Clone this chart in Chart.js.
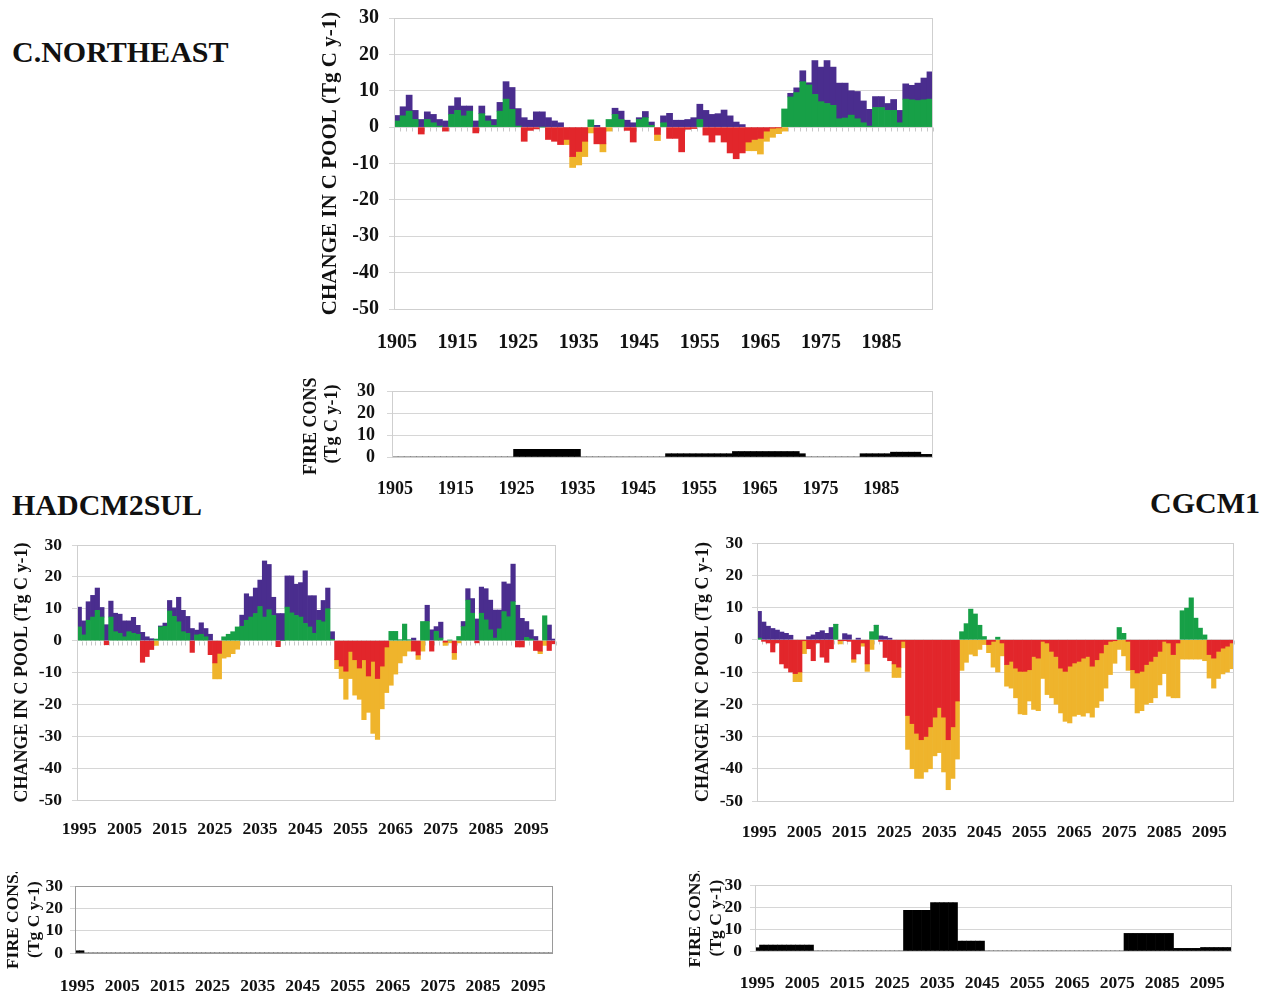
<!DOCTYPE html>
<html>
<head>
<meta charset="utf-8">
<script src="https://cdn.jsdelivr.net/npm/chart.js@4.4.1/dist/chart.umd.min.js"></script>
<style>
  html, body { margin: 0; padding: 0; background: #ffffff; }
  body { width: 1270px; height: 995px; position: relative; overflow: hidden;
         font-family: "Liberation Serif", "Times New Roman", serif; }
  .panel-title { position: absolute; font-weight: bold; font-size: 30px; line-height: 30px; color: #111; white-space: nowrap; }
  canvas { position: absolute; }
</style>
</head>
<body>
<div class="panel-title" style="left:12px; top:37px;">C.NORTHEAST</div>
<div class="panel-title" style="left:12px; top:490px;">HADCM2SUL</div>
<div class="panel-title" style="right:10px; top:488px;">CGCM1</div>

<canvas id="histMain"></canvas>
<canvas id="histFireChart"></canvas>
<canvas id="hadMain"></canvas>
<canvas id="hadFireChart"></canvas>
<canvas id="cgMain"></canvas>
<canvas id="cgFireChart"></canvas>

<script>
// ---- categories ----
const histYears = [1905,1906,1907,1908,1909,1910,1911,1912,1913,1914,
  1915,1916,1917,1918,1919,1920,1921,1922,1923,1924,
  1925,1926,1927,1928,1929,1930,1931,1932,1933,1934,
  1935,1936,1937,1938,1939,1940,1941,1942,1943,1944,
  1945,1946,1947,1948,1949,1950,1951,1952,1953,1954,
  1955,1956,1957,1958,1959,1960,1961,1962,1963,1964,
  1965,1966,1967,1968,1969,1970,1971,1972,1973,1974,
  1975,1976,1977,1978,1979,1980,1981,1982,1983,1984,
  1985,1986,1987,1988,1989,1990,1991,1992,1993];

const futureYears = [1995,1996,1997,1998,1999,2000,2001,2002,2003,2004,
  2005,2006,2007,2008,2009,2010,2011,2012,2013,2014,
  2015,2016,2017,2018,2019,2020,2021,2022,2023,2024,
  2025,2026,2027,2028,2029,2030,2031,2032,2033,2034,
  2035,2036,2037,2038,2039,2040,2041,2042,2043,2044,
  2045,2046,2047,2048,2049,2050,2051,2052,2053,2054,
  2055,2056,2057,2058,2059,2060,2061,2062,2063,2064,
  2065,2066,2067,2068,2069,2070,2071,2072,2073,2074,
  2075,2076,2077,2078,2079,2080,2081,2082,2083,2084,
  2085,2086,2087,2088,2089,2090,2091,2092,2093,2094,
  2095,2096,2097,2098,2099,2100];

// ---- tick labels ----
const histTickYears = [1905,1915,1925,1935,1945,1955,1965,1975,1985];
const futureTickYears = [1995,2005,2015,2025,2035,2045,2055,2065,2075,2085,2095];
const poolTicks = [-50,-40,-30,-20,-10,0,10,20,30];
const fireTicks = [0,10,20,30];

// ---- C.NORTHEAST, annual change in carbon pools (Tg C / yr) ----
const histVeg = [1.7,3.1,4.4,2.1,-1.9,2.1,1.2,0.3,-1.1,3.5,
  4.6,3.1,4.4,-1.6,3.7,1.7,0.5,4.4,7.7,4.9,
  0.3,-3.9,-0.9,-0.5,0.0,-3.4,-3.9,-4.8,-3.4,-8.1,
  -6.7,-3.9,2.0,-4.6,-4.6,2.1,3.5,2.1,-0.9,-4.1,
  2.1,2.6,0.5,-2.0,1.2,-3.1,-3.1,-6.8,-0.6,-0.4,
  2.1,-2.2,-4.1,-2.2,-4.1,-7.1,-8.7,-7.1,-4.1,-3.4,
  -3.1,-1.1,-0.3,-0.2,5.0,8.3,9.5,12.5,11.6,9.0,
  7.0,6.5,6.0,2.3,2.5,3.3,2.3,1.2,0.3,5.4,
  5.4,4.6,4.6,1.2,7.7,7.5,7.3,7.5,7.7];
const histSoil = [1.5,2.5,4.4,2.5,2.1,2.1,2.3,1.8,1.7,2.3,
  3.5,2.7,1.4,1.7,2.1,1.4,1.6,2.4,4.8,6.0,
  4.8,2.6,1.9,4.2,4.2,2.6,1.7,1.2,-1.4,-3.0,
  -3.7,-4.2,-1.6,0.5,-2.2,-1.1,1.7,2.3,1.9,1.2,
  0.5,1.7,0.9,-1.7,1.9,3.8,1.9,1.9,2.1,2.6,
  4.2,4.6,3.5,3.7,4.7,3.1,1.4,0.7,-2.4,-3.1,
  -4.3,-2.8,-2.5,-1.6,-1.1,1.0,1.3,3.0,0.6,9.3,
  9.5,11.8,10.5,9.8,9.6,6.7,7.5,6.0,4.6,3.0,
  3.0,1.9,3.0,3.4,4.2,4.0,4.8,6.0,7.5];
const histFire = [0,0,0,0,0,0,0,0,0,0,
  0,0,0,0,0,0,0,0,0,0,
  3.5,3.5,3.5,3.5,3.5,3.5,3.5,3.5,3.5,3.5,
  3.5,0,0,0,0,0,0,0,0,0,
  0,0,0,0,0,1.5,1.5,1.5,1.5,1.5,
  1.5,1.5,1.5,1.5,1.5,1.5,2.5,2.5,2.5,2.5,
  2.5,2.5,2.5,2.5,2.5,2.5,2.5,1.5,0,0,
  0,0,0,0,0,0,0,1.5,1.5,1.5,
  1.5,1.5,2.2,2.2,2.2,2.2,2.2,1.2,1.2];

// ---- HADCM2SUL scenario ----
const hadVeg = [4.3,1.8,6.4,7.4,9.5,7.4,-1.3,7.4,2.8,2.3,
  1.2,2.8,2.3,2.0,-6.8,-5.0,-2.8,0.5,4.3,4.5,
  9.3,7.6,5.9,2.8,2.3,-3.7,1.8,2.0,1.2,-4.4,
  -7.0,-4.0,1.2,2.0,2.8,4.3,4.5,6.4,7.4,8.5,
  10.7,7.4,9.7,7.9,-1.9,0.0,10.5,8.7,7.9,7.4,
  5.4,4.3,2.3,6.4,5.9,10.0,0.4,-6.0,-8.0,-9.6,
  -3.4,-6.0,-8.6,-6.0,-11.1,-6.5,-11.9,-8.0,-2.0,2.9,
  2.9,0.3,5.2,0.3,-3.3,-4.5,6.0,6.0,-3.3,2.9,
  0.8,-0.5,0.2,-3.8,1.3,4.4,12.7,8.6,-0.7,8.6,
  6.5,3.4,0.8,3.7,9.1,7.5,12.2,-2.0,-2.0,1.0,
  0.5,-3.1,-3.3,7.8,-3.1,-1.0];
const hadSoil = [6.2,4.4,5.8,6.8,7.0,3.0,5.0,5.0,5.8,6.0,
  5.0,3.4,5.0,2.8,2.6,1.2,0.6,-1.5,0.3,1.0,
  3.3,2.7,7.7,6.7,5.3,3.8,1.5,3.6,2.6,2.0,
  -5.0,-8.0,-5.5,-5.1,-4.1,-2.7,3.5,8.3,6.4,8.0,
  8.3,17.6,14.2,5.7,8.5,8.5,9.8,11.6,9.8,10.8,
  16.5,9.8,11.8,3.1,6.7,6.5,2.4,-2.8,-3.9,-8.8,
  -8.5,-11.1,-9.8,-18.8,-11.4,-22.6,-19.1,-13.4,-14.3,-14.0,
  -10.5,-7.0,-4.8,-3.3,0.8,-1.4,-3.3,5.1,3.4,1.5,
  5.0,-1.0,-0.7,-2.1,-0.7,1.6,3.6,4.6,6.8,8.2,
  9.8,9.3,8.8,5.9,9.3,10.3,11.8,11.1,7.0,5.0,
  2.9,1.3,-0.8,-1.5,4.9,0.5];
const hadFire = [1.0,1.0,0,0,0,0,0,0,0,0,
  0,0,0,0,0,0,0,0,0,0,
  0,0,0,0,0,0,0,0,0,0,
  0,0,0,0,0,0,0,0,0,0,
  0,0,0,0,0,0,0,0,0,0,
  0,0,0,0,0,0,0,0,0,0,
  0,0,0,0,0,0,0,0,0,0,
  0,0,0,0,0,0,0,0,0,0,
  0,0,0,0,0,0,0,0,0,0,
  0,0,0,0,0,0,0,0,0,0,
  0,0,0,0,0,0];

// ---- CGCM1 scenario ----
const cgVeg = [0.5,-0.5,-1.0,-3.8,-1.0,-7.5,-8.8,-10.0,-10.5,-10.0,
  -0.3,-2.8,-6.5,-1.0,-5.4,-7.0,-2.8,4.8,-0.3,-0.3,
  -0.5,-6.0,-4.4,-1.0,-7.5,2.5,4.5,-0.5,-5.5,-6.5,
  -7.5,-8.5,-0.5,-23.5,-26.0,-29.0,-31.0,-30.0,-27.0,-24.0,
  -21.0,-24.0,-31.0,-27.0,-19.0,2.5,5.0,9.5,8.0,4.5,
  1.0,-1.5,-0.5,0.8,-1.0,-7.7,-6.7,-8.8,-9.8,-9.8,
  -9.3,-5.2,-5.7,-0.5,-1.0,-3.6,-5.2,-8.8,-9.8,-8.2,
  -7.2,-6.7,-5.7,-5.2,-8.2,-6.2,-4.1,-1.5,-0.5,-0.3,
  3.8,2.0,-0.5,-9.3,-10.3,-9.8,-7.7,-6.7,-5.2,-3.6,
  -0.5,-1.0,-4.6,-1.0,9.0,9.8,13.0,6.7,3.6,1.5,
  -4.6,-5.7,-3.6,-2.6,-2.0,-1.0];
const cgSoil = [8.3,5.5,4.2,3.5,3.0,2.4,2.0,1.4,-2.5,-3.0,
  -4.0,1.0,1.5,2.3,2.8,2.0,3.8,0.0,-1.0,1.9,
  1.5,-1.0,0.5,-1.0,-2.3,-3.0,0.0,1.2,1.0,0.5,
  -4.2,-3.2,-2.0,-10.5,-14.0,-14.0,-12.0,-11.0,-13.0,-12.0,
  -14.0,-17.0,-15.5,-16.0,-18.0,-9.5,-7.0,-4.5,-5.0,-3.0,
  -1.5,-2.5,-8.0,-10.0,-4.0,-6.7,-8.3,-9.2,-13.2,-13.4,
  -9.7,-16.4,-16.3,-11.5,-16.0,-14.4,-14.8,-13.9,-15.5,-17.6,
  -16.5,-16.5,-18.0,-17.5,-15.8,-14.8,-14.9,-13.5,-10.3,-7.0,
  -3.0,-5.0,-9.0,-5.7,-12.4,-12.2,-12.3,-12.8,-12.8,-10.4,
  -10.0,-16.5,-13.4,-17.0,-6.0,-6.0,-6.0,-6.0,-6.0,-6.5,
  -7.3,-9.3,-8.4,-8.0,-8.0,-8.0];
const cgFire = [1.5,2.7,2.7,2.7,2.7,2.7,2.7,2.7,2.7,2.7,
  2.7,2.7,2.7,0,0,0,0,0,0,0,
  0,0,0,0,0,0,0,0,0,0,
  0,0,0,18.5,18.5,18.5,18.5,18.5,18.5,22,
  22,22,22,22,22,4.5,4.5,4.5,4.5,4.5,
  4.5,0,0,0,0,0,0,0,0,0,
  0,0,0,0,0,0,0,0,0,0,
  0,0,0,0,0,0,0,0,0,0,
  0,0,8,8,8,8,8,8,8,8,
  8,8,8,1.2,1.2,1.2,1.2,1.2,1.2,1.6,
  1.6,1.6,1.6,1.6,1.6,1.6];

// ---- styling ----
const GREEN = '#17a047';
const RED = '#e2262b';
const PURPLE = '#4a2d8e';
const YELLOW = '#efb42c';
const GRID = '#d6d6d6';
const TEXT = '#111111';
const SERIF = "'Liberation Serif', 'Times New Roman', serif";

Chart.defaults.font.family = SERIF;
Chart.defaults.font.weight = 'bold';
Chart.defaults.color = TEXT;

// frame around the plotting area and small category marks on the zero line
const framePlugin = {
  id: 'frame',
  beforeDatasetsDraw(chart, args, opts) {
    if (!opts.zeroMarks) return;
    const ctx = chart.ctx, xs = chart.scales.x, ys = chart.scales.y;
    const y0 = Math.round(ys.getPixelForValue(0)) + 0.5;
    const step = xs.getPixelForValue(1) - xs.getPixelForValue(0);
    const start = xs.getPixelForValue(0) - step / 2;
    ctx.save();
    ctx.strokeStyle = '#c8c8c8';
    ctx.lineWidth = 1;
    ctx.beginPath();
    for (let i = 0; i <= chart.data.labels.length; i++) {
      const px = Math.round(start + i * step) + 0.5;
      ctx.moveTo(px, y0);
      ctx.lineTo(px, y0 + 4);
    }
    ctx.stroke();
    ctx.restore();
  },
  afterDatasetsDraw(chart, args, opts) {
    const ctx = chart.ctx, a = chart.chartArea;
    ctx.save();
    ctx.strokeStyle = opts.color || '#c4c4c4';
    ctx.lineWidth = 1;
    ctx.strokeRect(Math.round(a.left) + 0.5, Math.round(a.top) + 0.5,
                   Math.round(a.right - a.left) - 1, Math.round(a.bottom - a.top));
    ctx.restore();
  }
};

// builds one panel; g holds the plotting-area box on the page and font sizes
function buildPanel(id, g, labels, tickYears, datasets, yTicks, stacked, frameOpts) {
  const canvas = document.getElementById(id);
  const titleSize = g.titleFont || g.font;
  const lh = titleSize * 1.2;
  const tickLh = g.font * 1.2;
  const canvasLeft = Math.max(0, g.titleX - 20);
  const titlePad = g.titleX - canvasLeft - lh / 2;
  const padTop = 14, padRight = 8;
  const yw = g.l - canvasLeft;
  const xh = g.xOff + 22;
  const width = (g.r - canvasLeft) + padRight;
  const height = padTop + (g.b - g.t) + xh;
  canvas.width = width;
  canvas.height = height;
  canvas.style.left = canvasLeft + 'px';
  canvas.style.top = (g.t - padTop) + 'px';
  canvas.style.width = width + 'px';
  canvas.style.height = height + 'px';

  return new Chart(canvas, {
    type: 'bar',
    data: { labels, datasets },
    plugins: [framePlugin],
    options: {
      responsive: false,
      maintainAspectRatio: false,
      devicePixelRatio: 1,
      animation: false,
      layout: { padding: { left: 0, top: padTop, right: padRight, bottom: 0 } },
      plugins: {
        legend: { display: false },
        tooltip: { enabled: false },
        frame: frameOpts
      },
      scales: {
        x: {
          stacked,
          offset: true,
          grid: { display: false, drawTicks: false },
          border: { display: false },
          ticks: {
            autoSkip: false, maxRotation: 0, minRotation: 0,
            padding: g.xOff - tickLh / 2,
            font: { size: g.font, weight: 'bold' },
            color: TEXT,
            callback(value) {
              const yr = this.getLabelForValue(value);
              return tickYears.includes(yr) ? String(yr) : '';
            }
          },
          afterFit(scale) {
            scale.height = xh;
            scale.paddingLeft = 0;
            scale.paddingRight = 0;
          }
        },
        y: {
          stacked,
          min: yTicks[0],
          max: yTicks[yTicks.length - 1],
          grid: { color: GRID, lineWidth: 1, drawTicks: true, tickLength: 5, tickColor: GRID },
          border: { display: true, color: '#c4c4c4' },
          afterBuildTicks(scale) { scale.ticks = yTicks.map(v => ({ value: v })); },
          ticks: {
            autoSkip: false,
            padding: g.yGap - 5,
            font: { size: g.font, weight: 'bold' },
            color: TEXT
          },
          title: {
            display: true,
            text: g.title,
            font: { size: titleSize, weight: 'bold', lineHeight: 1.2 },
            color: TEXT,
            padding: { top: titlePad, bottom: 0 }
          },
          afterFit(scale) {
            scale.width = yw;
            scale.paddingTop = 0;
            scale.paddingBottom = 0;
          }
        }
      }
    }
  });
}

function poolDatasets(veg, soil) {
  return [
    { label: 'vegetation', data: veg, borderWidth: 0, barPercentage: 1, categoryPercentage: 1,
      backgroundColor: c => (c.raw >= 0 ? GREEN : RED) },
    { label: 'soil', data: soil, borderWidth: 0, barPercentage: 1, categoryPercentage: 1,
      backgroundColor: c => (c.raw >= 0 ? PURPLE : YELLOW) }
  ];
}
function fireDatasets(fire) {
  return [{ label: 'fire', data: fire, borderWidth: 0, barPercentage: 1, categoryPercentage: 1,
            backgroundColor: '#000000' }];
}

const poolTitle = 'CHANGE IN C POOL (Tg C y-1)';
const fireTitle = ['FIRE CONS.', '(Tg C y-1)'];

buildPanel('histMain',
  { l: 394, t: 18, r: 933, b: 309, font: 20, titleFont: 21, titleX: 331, xOff: 34, yGap: 15, title: poolTitle },
  histYears, histTickYears, poolDatasets(histVeg, histSoil), poolTicks, true,
  { zeroMarks: true, color: '#cfcfcf' });

buildPanel('histFireChart',
  { l: 392, t: 391, r: 933, b: 457, font: 18, titleX: 311, xOff: 32, yGap: 17, title: fireTitle },
  histYears, histTickYears, fireDatasets(histFire), fireTicks, false,
  { zeroMarks: false, color: '#cfcfcf' });

buildPanel('hadMain',
  { l: 77, t: 545, r: 556, b: 800, font: 17.5, titleFont: 18, titleX: 22, xOff: 29, yGap: 15, title: poolTitle },
  futureYears, futureTickYears, poolDatasets(hadVeg, hadSoil), poolTicks, true,
  { zeroMarks: true, color: '#cfcfcf' });

buildPanel('hadFireChart',
  { l: 75, t: 886, r: 553, b: 953, font: 17.5, titleX: 13, xOff: 33, yGap: 12, title: fireTitle },
  futureYears, futureTickYears, fireDatasets(hadFire), fireTicks, false,
  { zeroMarks: false, color: '#9a9a9a' });

buildPanel('cgMain',
  { l: 757, t: 543, r: 1234, b: 801, font: 17.5, titleFont: 18, titleX: 703, xOff: 31, yGap: 14, title: poolTitle },
  futureYears, futureTickYears, poolDatasets(cgVeg, cgSoil), poolTicks, true,
  { zeroMarks: true, color: '#cfcfcf' });

buildPanel('cgFireChart',
  { l: 755, t: 885, r: 1232, b: 951, font: 17.5, titleX: 695, xOff: 32, yGap: 13, title: fireTitle },
  futureYears, futureTickYears, fireDatasets(cgFire), fireTicks, false,
  { zeroMarks: false, color: '#cfcfcf' });
</script>
</body>
</html>
